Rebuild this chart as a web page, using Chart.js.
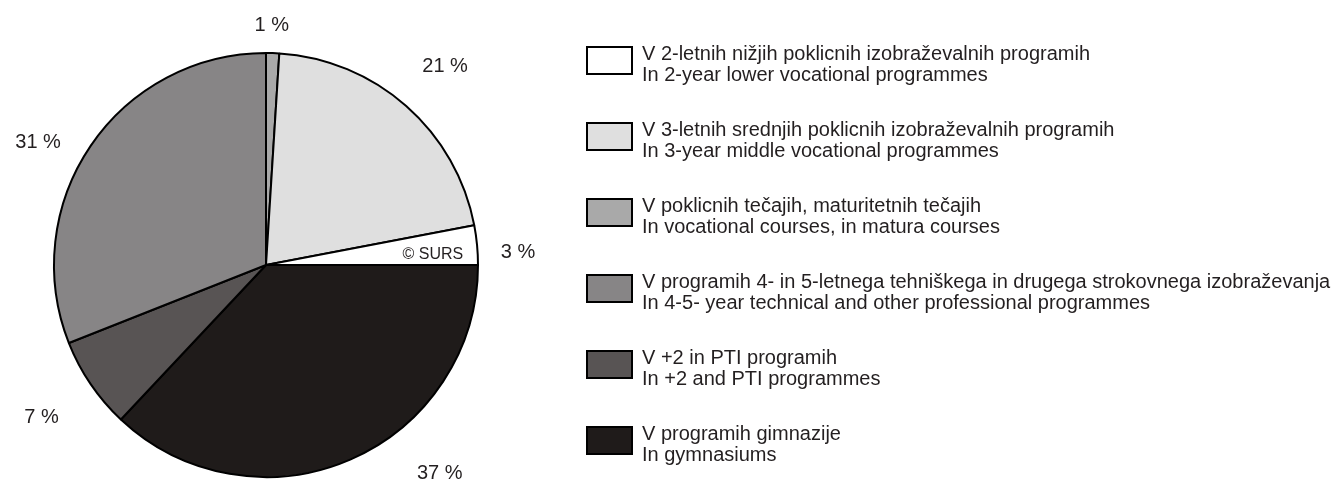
<!DOCTYPE html>
<html>
<head>
<meta charset="utf-8">
<script src="https://cdn.jsdelivr.net/npm/chart.js@4.4.1/dist/chart.umd.min.js"></script>
<style>
  html, body { margin: 0; padding: 0; background: #fff; }
  #wrap { position: relative; width: 1332px; height: 484px; }
</style>
</head>
<body>
<div id="wrap"><canvas id="eduPie" width="1332" height="484"></canvas></div>
<script>
// categories (legend order), Slovenian + English line
const labelsSl = [
  "V 2-letnih nižjih poklicnih izobraževalnih programih",
  "V 3-letnih srednjih poklicnih izobraževalnih programih",
  "V poklicnih tečajih, maturitetnih tečajih",
  "V programih 4- in 5-letnega tehniškega in drugega strokovnega izobraževanja",
  "V +2 in PTI programih",
  "V programih gimnazije"
];
const labelsEn = [
  "In 2-year lower vocational programmes",
  "In 3-year middle vocational programmes",
  "In vocational courses, in matura courses",
  "In 4-5- year technical and other professional programmes",
  "In +2 and PTI programmes",
  "In gymnasiums"
];
const shares = [3, 21, 1, 31, 7, 37];
const sliceColors = ["#ffffff", "#dfdfdf", "#a9a9a9", "#878586", "#585454", "#1f1b1a"];

// original runs counter-clockwise from 3 o'clock, Chart.js goes clockwise -> feed it reversed
const order = shares.map((_, i) => shares.length - 1 - i);

const FONT = '"Liberation Sans", Arial, sans-serif';

// percent labels, legend and the copyright note
const pieExtrasPlugin = {
  id: 'pieExtras',
  afterDraw(chart, args, opts) {
    const { ctx } = chart;
    const meta = chart.getDatasetMeta(0);
    ctx.save();
    ctx.fillStyle = '#231f20';
    ctx.font = '20px ' + FONT;
    ctx.textAlign = 'center';
    ctx.textBaseline = 'middle';
    meta.data.forEach((arc, i) => {
      const idx = order[i];
      const p = arc.getProps(['x', 'y', 'startAngle', 'endAngle', 'outerRadius'], true);
      const [nudge, k] = opts.labelNudge[idx];
      const a = (p.startAngle + p.endAngle) / 2 + nudge * Math.PI / 180;
      const d = p.outerRadius * k;
      ctx.fillText(shares[idx] + ' %', p.x + Math.cos(a) * d, p.y + Math.sin(a) * d);
    });

    const c = meta.data[0].getProps(['x', 'y', 'outerRadius'], true);
    ctx.font = '16px ' + FONT;
    ctx.textAlign = 'right';
    ctx.textBaseline = 'alphabetic';
    ctx.fillText('\u00A9 SURS', c.x + c.outerRadius * 0.93, c.y - 6);

    // legend
    const lg = opts.legend;
    ctx.font = '20px ' + FONT;
    ctx.textAlign = 'left';
    labelsSl.forEach((txt, i) => {
      const top = lg.y + lg.step * i;
      ctx.fillStyle = sliceColors[i];
      ctx.fillRect(lg.x, top, lg.w, lg.h);
      ctx.strokeStyle = '#000';
      ctx.lineWidth = 2;
      ctx.strokeRect(lg.x, top, lg.w, lg.h);
      ctx.fillStyle = '#231f20';
      ctx.fillText(txt, lg.textX, top + 13);
      ctx.fillText(labelsEn[i], lg.textX, top + 34);
    });
    ctx.restore();
  }
};

const eduPie = new Chart(document.getElementById('eduPie').getContext('2d'), {
  type: 'pie',
  data: {
    labels: order.map(i => labelsEn[i]),
    datasets: [{
      data: order.map(i => shares[i]),
      backgroundColor: order.map(i => sliceColors[i]),
      borderColor: '#000',
      borderWidth: 2
    }]
  },
  options: {
    responsive: false,
    animation: false,
    devicePixelRatio: 1,
    rotation: 90,
    layout: {
      padding: { left: 0, right: 800, top: 52, bottom: 6 }
    },
    plugins: {
      legend: { display: false },
      tooltip: { enabled: false },
      pieExtras: {
        // [angle nudge in degrees, distance as share of radius]
        labelNudge: [[2.5, 1.19], [0.7, 1.26], [-0.4, 1.13], [-6, 1.22], [0, 1.28], [-16.4, 1.28]],
        legend: { x: 587, y: 47, step: 76, w: 45, h: 27, textX: 642 }
      }
    }
  },
  plugins: [pieExtrasPlugin]
});
</script>
</body>
</html>
